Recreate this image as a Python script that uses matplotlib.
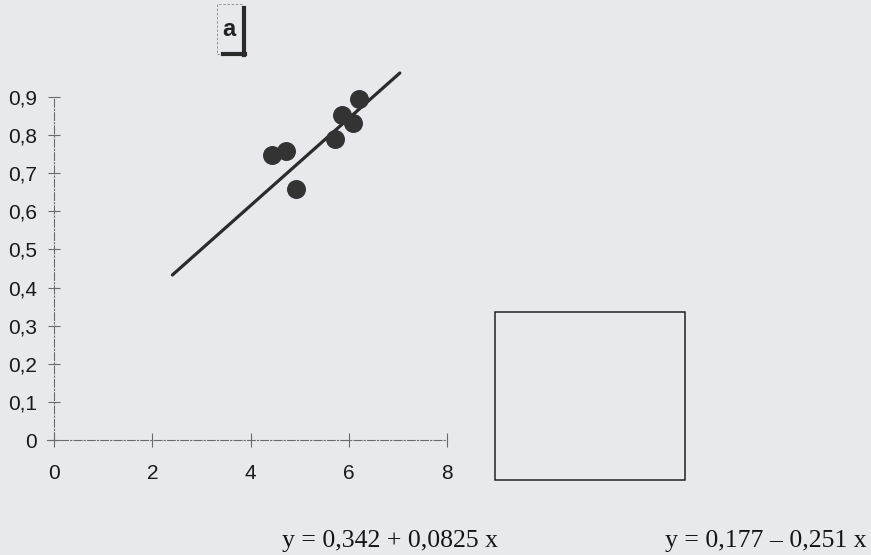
import matplotlib.pyplot as plt
from matplotlib.patches import Rectangle

# measured points
x_pts = [4.43, 4.73, 4.92, 5.73, 5.86, 6.08, 6.20]
y_pts = [0.748, 0.759, 0.659, 0.790, 0.853, 0.832, 0.895]

# regression line end points
line_x = [2.41, 7.04]
line_y = [0.433, 0.963]

x_ticks = [0, 2, 4, 6, 8]
x_labels = ["0", "2", "4", "6", "8"]
y_ticks = [0, 0.1, 0.2, 0.3, 0.4, 0.5, 0.6, 0.7, 0.8, 0.9]
y_labels = ["0", "0,1", "0,2", "0,3", "0,4", "0,5", "0,6", "0,7", "0,8", "0,9"]

eq_left = "y = 0,342 + 0,0825 x"
eq_right = "y = 0,177 – 0,251 x"
panel_tag = "a"

W, H = 871, 555
bg = "#e7e9ed"
fig = plt.figure(figsize=(W / 100, H / 100), dpi=100, facecolor=bg)

ax = fig.add_axes([54 / W, 115 / H, 393 / W, 343 / H])
ax.set_facecolor("none")
ax.set_xlim(0, 8)
ax.set_ylim(0, 0.9)

for side in ("top", "right"):
    ax.spines[side].set_visible(False)
for side in ("left", "bottom"):
    ax.spines[side].set_linestyle((0, (7, 2, 1, 2)))
    ax.spines[side].set_color("#6a6a6a")
    ax.spines[side].set_linewidth(0.8)
ax.spines["bottom"].set_bounds(-0.15, 8)

ax.set_xticks(x_ticks)
ax.set_xticklabels(x_labels)
ax.set_yticks(y_ticks)
ax.set_yticklabels(y_labels)
ax.tick_params(axis="x", direction="inout", length=10, width=0.8, color="#6a6a6a",
               pad=12, labelsize=15, labelcolor="#1a1a1a")
ax.tick_params(axis="y", direction="inout", length=9, width=0.8, color="#6a6a6a",
               pad=8, labelsize=15, labelcolor="#1a1a1a")
for lab in ax.get_xticklabels() + ax.get_yticklabels():
    lab.set_fontfamily("Liberation Sans")

ax.plot(line_x, line_y, color="#2b2b2b", lw=2.3, solid_capstyle="round", clip_on=False)
ax.scatter(x_pts, y_pts, s=160, color="#333333", zorder=3, clip_on=False)

# panel tag with shadowed frame
tag = Rectangle((217 / W, 1 - 54 / H), 25 / W, 50 / H, transform=fig.transFigure,
                fill=False, edgecolor="#8a8a8a", lw=0.6, ls=(0, (3, 2)))
fig.add_artist(tag)
fig.add_artist(plt.Line2D([243.5 / W, 243.5 / W], [1 - 8 / H, 1 - 55 / H],
                          transform=fig.transFigure, color="#2a2a2a", lw=3))
fig.add_artist(plt.Line2D([223 / W, 245 / W], [1 - 53.5 / H, 1 - 53.5 / H],
                          transform=fig.transFigure, color="#2a2a2a", lw=3))
fig.text(229 / W, 1 - 30 / H, panel_tag, ha="center", va="center", fontsize=17,
         fontweight="bold", family="Liberation Sans", color="#222222")

# empty second panel
fig.add_artist(Rectangle((495 / W, 1 - 480 / H), 190 / W, 168 / H,
                         transform=fig.transFigure, fill=False,
                         edgecolor="#222222", lw=1.1))

fig.text(390 / W, 1 - 541 / H, eq_left, ha="center", va="center", fontsize=18.5,
         family="Liberation Serif", color="#151515")
fig.text(766 / W, 1 - 541 / H, eq_right, ha="center", va="center", fontsize=18.5,
         family="Liberation Serif", color="#151515")

fig.savefig("out.png", dpi=100, facecolor=bg)
